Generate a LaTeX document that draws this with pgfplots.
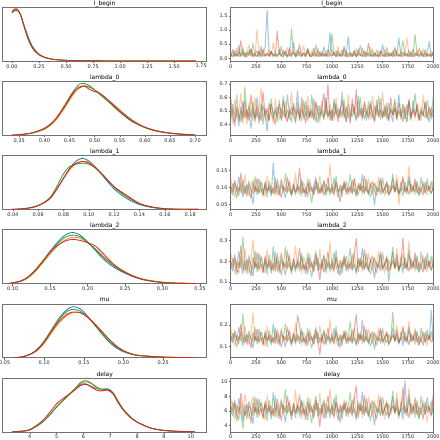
\documentclass[border=0pt]{standalone}
\usepackage{pgfplots}
\pgfplotsset{compat=1.18}
\usepackage{pgfplotstable}
\usepackage{fontspec}
\setmainfont{DejaVu Sans}
\definecolor{cA}{HTML}{1F77B4}
\definecolor{cB}{HTML}{FF7F0E}
\definecolor{cC}{HTML}{2CA02C}
\definecolor{cD}{HTML}{D62728}

% ---------- KDE tables: x, chain0..chain3 ----------
\pgfplotstableread{
x c0 c1 c2 c3
0.00 0.90 0.91 0.90 0.92
0.02 0.93 0.97 0.94 0.95
0.04 0.95 0.99 0.95 0.96
0.06 0.93 0.94 0.92 0.93
0.08 0.86 0.85 0.85 0.86
0.10 0.74 0.72 0.72 0.73
0.125 0.59 0.55 0.56 0.56
0.15 0.45 0.40 0.41 0.41
0.175 0.33 0.29 0.30 0.30
0.20 0.24 0.21 0.21 0.22
0.25 0.13 0.115 0.115 0.12
0.30 0.075 0.07 0.07 0.07
0.35 0.045 0.042 0.045 0.044
0.40 0.028 0.027 0.03 0.028
0.50 0.014 0.013 0.014 0.015
0.60 0.008 0.008 0.008 0.009
0.75 0.004 0.005 0.004 0.005
1.00 0.002 0.002 0.003 0.002
1.25 0.001 0.001 0.001 0.001
1.50 0.001 0.000 0.000 0.000
1.70 0.000 0.000 0.000 0.000
}\klb
\pgfplotstableread{
x c0 c1 c2 c3
0.335 0.00 0.00 0.00 0.00
0.35 0.010 0.008 0.010 0.009
0.375 0.040 0.036 0.040 0.045
0.40 0.12 0.11 0.12 0.13
0.42 0.26 0.25 0.27 0.28
0.44 0.52 0.50 0.55 0.54
0.45 0.67 0.65 0.71 0.69
0.46 0.80 0.79 0.85 0.82
0.47 0.88 0.89 0.95 0.90
0.48 0.91 0.92 0.96 0.91
0.49 0.89 0.90 0.92 0.85
0.50 0.84 0.84 0.84 0.81
0.51 0.78 0.77 0.76 0.78
0.52 0.71 0.70 0.68 0.71
0.53 0.63 0.62 0.60 0.62
0.54 0.55 0.54 0.51 0.53
0.55 0.47 0.46 0.43 0.44
0.56 0.39 0.38 0.35 0.37
0.575 0.28 0.27 0.25 0.26
0.60 0.15 0.15 0.14 0.145
0.625 0.08 0.08 0.07 0.075
0.65 0.04 0.04 0.035 0.04
0.675 0.018 0.02 0.015 0.018
0.70 0.005 0.006 0.003 0.004
}\kla
\pgfplotstableread{
x c0 c1 c2 c3
0.039 0.00 0.00 0.00 0.00
0.05 0.015 0.015 0.02 0.015
0.06 0.07 0.07 0.075 0.07
0.07 0.22 0.22 0.24 0.22
0.08 0.58 0.57 0.66 0.58
0.085 0.77 0.74 0.80 0.76
0.09 0.90 0.85 0.84 0.86
0.095 0.95 0.89 0.86 0.89
0.10 0.90 0.88 0.84 0.86
0.105 0.79 0.79 0.77 0.78
0.11 0.65 0.67 0.66 0.67
0.12 0.38 0.42 0.41 0.42
0.13 0.20 0.25 0.23 0.26
0.14 0.09 0.11 0.10 0.11
0.15 0.035 0.045 0.04 0.045
0.16 0.01 0.015 0.012 0.012
0.17 0.003 0.006 0.004 0.003
0.187 0.00 0.00 0.00 0.00
}\klc
\pgfplotstableread{
x c0 c1 c2 c3
0.095 0.00 0.00 0.00 0.00
0.11 0.04 0.035 0.04 0.045
0.12 0.11 0.10 0.11 0.12
0.13 0.24 0.22 0.24 0.25
0.14 0.41 0.38 0.40 0.42
0.15 0.60 0.55 0.58 0.59
0.16 0.77 0.70 0.74 0.71
0.17 0.90 0.81 0.86 0.79
0.18 0.95 0.86 0.90 0.82
0.19 0.90 0.84 0.87 0.80
0.20 0.77 0.76 0.77 0.76
0.21 0.62 0.65 0.64 0.70
0.22 0.47 0.52 0.50 0.57
0.23 0.35 0.40 0.38 0.42
0.24 0.26 0.30 0.28 0.30
0.25 0.19 0.22 0.20 0.21
0.26 0.13 0.15 0.14 0.14
0.27 0.085 0.10 0.09 0.09
0.28 0.055 0.065 0.06 0.055
0.30 0.02 0.025 0.02 0.02
0.32 0.005 0.01 0.005 0.003
0.345 0.00 0.002 0.00 0.00
}\kld
\pgfplotstableread{
x c0 c1 c2 c3
0.06 0.00 0.00 0.00 0.00
0.07 0.01 0.01 0.012 0.01
0.08 0.05 0.045 0.05 0.05
0.09 0.14 0.12 0.14 0.13
0.10 0.31 0.27 0.31 0.29
0.11 0.54 0.48 0.53 0.51
0.12 0.76 0.67 0.74 0.70
0.13 0.91 0.80 0.87 0.82
0.137 0.95 0.84 0.90 0.85
0.145 0.91 0.84 0.87 0.84
0.15 0.85 0.81 0.82 0.80
0.16 0.68 0.69 0.67 0.68
0.17 0.49 0.53 0.50 0.53
0.18 0.32 0.37 0.34 0.37
0.19 0.19 0.23 0.21 0.23
0.20 0.11 0.13 0.12 0.13
0.21 0.065 0.075 0.07 0.07
0.22 0.04 0.045 0.04 0.04
0.25 0.01 0.012 0.012 0.01
0.29 0.00 0.00 0.00 0.00
}\klm
\pgfplotstableread{
x c0 c1 c2 c3
3.35 0.00 0.00 0.00 0.00
3.7 0.012 0.01 0.01 0.012
4.0 0.04 0.035 0.035 0.04
4.5 0.19 0.19 0.19 0.22
5.0 0.46 0.47 0.46 0.52
5.3 0.61 0.62 0.61 0.64
5.6 0.75 0.76 0.76 0.75
5.9 0.88 0.90 0.92 0.86
6.1 0.89 0.93 0.95 0.88
6.3 0.84 0.89 0.90 0.83
6.5 0.80 0.81 0.83 0.77
6.7 0.79 0.77 0.79 0.76
6.9 0.80 0.77 0.78 0.78
7.1 0.73 0.71 0.70 0.72
7.3 0.56 0.55 0.53 0.55
7.5 0.41 0.40 0.39 0.40
7.8 0.25 0.25 0.24 0.25
8.0 0.18 0.18 0.18 0.18
8.5 0.07 0.07 0.07 0.07
9.0 0.027 0.025 0.025 0.025
9.5 0.01 0.008 0.008 0.01
10.15 0.0 0.0 0.0 0.0
}\kle

% ---------- trace tables: draw, chain0..chain3 (thinned) ----------
\pgfplotstableread{
x c0 c1 c2 c3
0 0.12 0.08 0.15 0.05
20 0.05 0.22 0.07 0.31
40 0.28 0.04 0.18 0.09
60 0.09 0.35 0.06 0.14
80 0.45 0.11 0.24 0.06
100 0.07 0.06 0.10 0.62
120 0.16 0.29 0.38 0.11
140 0.04 0.09 0.05 0.21
160 0.22 0.15 0.13 0.04
180 0.10 0.48 0.27 0.18
200 0.31 0.07 0.08 0.33
220 0.06 0.19 0.52 0.07
240 0.13 0.05 0.12 0.15
260 0.08 1.02 0.06 0.26
280 0.25 0.12 0.21 0.05
300 0.05 0.27 0.09 0.41
320 0.18 0.06 0.33 0.12
340 0.39 0.17 0.07 0.08
360 1.70 0.08 0.15 0.19
380 0.07 0.32 0.11 0.06
400 0.21 0.09 0.26 0.23
420 0.09 0.55 0.05 0.11
440 0.14 0.13 0.19 0.07
460 0.06 0.07 0.09 0.95
480 0.33 0.21 0.14 0.16
500 0.10 0.06 0.42 0.08
520 0.04 0.18 0.08 0.29
540 0.26 0.10 0.23 0.12
560 0.08 0.38 0.06 0.05
580 0.17 0.07 0.12 0.37
600 0.05 0.14 1.05 0.09
620 0.58 0.25 0.17 0.21
640 0.12 0.05 0.07 0.06
660 0.07 0.31 0.29 0.14
680 0.23 0.09 0.10 0.48
700 0.09 0.16 0.05 0.08
720 0.15 0.44 0.20 0.17
740 0.06 0.08 0.13 0.05
760 0.34 0.20 0.36 0.28
780 0.10 0.06 0.07 0.10
800 0.05 0.27 0.16 0.07
820 0.19 0.11 0.09 0.35
840 0.08 0.05 0.47 0.13
860 0.27 0.36 0.11 0.06
880 0.12 0.09 0.06 0.22
900 0.06 0.17 0.24 0.09
920 0.40 0.07 0.08 0.16
940 0.09 0.23 0.15 0.05
960 0.14 0.10 0.05 0.31
980 0.90 0.06 0.19 0.11
1000 0.07 0.30 0.85 0.08
1020 0.21 0.12 0.10 0.19
1040 0.05 0.08 0.27 0.06
1060 0.16 0.43 0.07 0.26
1080 0.08 0.06 0.14 0.10
1100 0.30 0.19 0.09 0.07
1120 0.11 0.07 0.33 0.42
1140 0.06 0.28 0.06 0.12
1160 0.76 0.10 0.18 0.05
1180 0.13 0.05 0.11 0.20
1200 0.07 0.22 0.05 0.09
1220 0.24 0.09 0.29 0.15
1240 0.05 0.34 0.08 0.06
1260 0.18 0.08 0.16 0.33
1280 0.09 0.15 0.45 0.11
1300 0.36 0.06 0.10 0.07
1320 0.10 0.25 0.06 0.24
1340 0.06 0.11 0.21 0.08
1360 0.20 0.07 0.12 0.53
1380 0.08 0.39 0.07 0.13
1400 0.14 0.09 0.31 0.05
1420 0.05 0.18 0.09 0.18
1440 0.29 0.05 0.14 0.10
1460 0.11 0.26 0.05 0.06
1480 0.07 0.12 0.23 0.29
1500 0.48 0.07 0.10 0.12
1520 0.12 0.32 0.06 0.07
1540 0.06 0.10 0.38 0.21
1560 0.19 0.06 0.12 0.08
1580 0.09 0.20 0.07 0.15
1600 0.26 0.08 0.19 0.05
1620 0.05 0.41 0.10 0.34
1640 0.15 0.11 0.26 0.09
1660 0.72 0.06 0.07 0.13
1680 0.10 0.24 0.14 0.06
1700 0.06 0.09 0.62 0.22
1720 0.21 0.15 0.09 0.10
1740 0.08 0.73 0.17 0.07
1760 0.13 0.07 0.06 0.28
1780 0.05 0.19 0.22 0.11
1800 0.32 0.10 0.10 0.05
1820 0.09 0.05 0.84 0.17
1840 0.17 0.28 0.12 0.09
1860 0.06 0.12 0.07 0.36
1880 0.24 0.07 0.18 0.13
1900 0.10 0.33 0.09 0.06
1920 0.05 0.09 0.30 0.20
1940 0.18 0.17 0.06 0.08
1960 0.60 0.06 0.14 0.15
1980 0.08 0.23 0.08 0.05
2000 0.13 0.11 0.20 0.25
}\tlb
\pgfplotstableread{
x c0 c1 c2 c3
0 0.47 0.52 0.44 0.60
20 0.55 0.41 0.51 0.46
40 0.42 0.58 0.47 0.39
60 0.51 0.45 0.62 0.53
80 0.39 0.49 0.43 0.48
100 0.53 0.63 0.50 0.42
120 0.46 0.44 0.41 0.57
140 0.58 0.52 0.68 0.45
160 0.44 0.40 0.46 0.51
180 0.49 0.56 0.53 0.43
200 0.37 0.47 0.45 0.62
220 0.52 0.43 0.57 0.49
240 0.45 0.60 0.42 0.44
260 0.60 0.46 0.49 0.54
280 0.48 0.53 0.44 0.41
300 0.43 0.67 0.55 0.50
320 0.54 0.45 0.40 0.64
340 0.47 0.50 0.52 0.46
360 0.35 0.42 0.47 0.52
380 0.56 0.55 0.43 0.43
400 0.49 0.48 0.59 0.55
420 0.44 0.41 0.46 0.47
440 0.52 0.59 0.50 0.40
460 0.46 0.47 0.42 0.53
480 0.58 0.44 0.55 0.49
500 0.43 0.52 0.48 0.44
520 0.50 0.46 0.61 0.58
540 0.45 0.57 0.45 0.46
560 0.62 0.43 0.51 0.42
580 0.47 0.50 0.44 0.51
600 0.42 0.64 0.53 0.47
620 0.53 0.48 0.47 0.56
640 0.48 0.42 0.41 0.45
660 0.65 0.51 0.56 0.52
680 0.44 0.46 0.49 0.43
700 0.51 0.54 0.43 0.60
720 0.46 0.44 0.58 0.48
740 0.57 0.49 0.46 0.41
760 0.43 0.61 0.50 0.54
780 0.50 0.45 0.45 0.46
800 0.45 0.52 0.62 0.50
820 0.59 0.43 0.48 0.44
840 0.47 0.56 0.42 0.57
860 0.41 0.47 0.54 0.49
880 0.54 0.42 0.47 0.45
900 0.48 0.58 0.51 0.52
920 0.44 0.46 0.44 0.63
940 0.60 0.51 0.57 0.47
960 0.46 0.44 0.46 0.70
980 0.51 0.55 0.50 0.43
1000 0.43 0.48 0.43 0.51
1020 0.56 0.43 0.59 0.46
1040 0.49 0.60 0.47 0.55
1060 0.45 0.47 0.52 0.42
1080 0.52 0.50 0.45 0.50
1100 0.47 0.45 0.64 0.58
1120 0.58 0.53 0.48 0.45
1140 0.42 0.46 0.42 0.53
1160 0.50 0.62 0.55 0.47
1180 0.45 0.44 0.49 0.41
1200 0.55 0.51 0.46 0.59
1220 0.48 0.47 0.53 0.48
1240 0.43 0.58 0.44 0.66
1260 0.61 0.45 0.50 0.46
1280 0.47 0.49 0.60 0.52
1300 0.52 0.43 0.46 0.45
1320 0.44 0.56 0.52 0.57
1340 0.50 0.48 0.43 0.49
1360 0.46 0.53 0.57 0.44
1380 0.57 0.44 0.48 0.55
1400 0.49 0.61 0.45 0.47
1420 0.43 0.47 0.54 0.42
1440 0.54 0.52 0.47 0.58
1460 0.47 0.45 0.61 0.46
1480 0.59 0.50 0.44 0.51
1500 0.45 0.64 0.50 0.45
1520 0.51 0.46 0.46 0.54
1540 0.44 0.53 0.56 0.48
1560 0.56 0.44 0.43 0.43
1580 0.48 0.51 0.52 0.60
1600 0.42 0.47 0.47 0.47
1620 0.53 0.57 0.59 0.52
1640 0.47 0.43 0.45 0.44
1660 0.62 0.50 0.51 0.56
1680 0.46 0.46 0.44 0.49
1700 0.51 0.55 0.55 0.42
1720 0.44 0.48 0.48 0.53
1740 0.55 0.42 0.42 0.47
1760 0.49 0.59 0.57 0.58
1780 0.43 0.46 0.46 0.45
1800 0.58 0.52 0.50 0.51
1820 0.47 0.44 0.63 0.46
1840 0.52 0.56 0.47 0.55
1860 0.45 0.47 0.43 0.43
1880 0.50 0.43 0.53 0.50
1900 0.46 0.62 0.48 0.47
1920 0.56 0.49 0.45 0.57
1940 0.48 0.45 0.58 0.44
1960 0.42 0.53 0.49 0.52
1980 0.53 0.46 0.44 0.48
2000 0.47 0.51 0.62 0.45
}\tla
\pgfplotstableread{
x c0 c1 c2 c3
0 0.092 0.128 0.085 0.104
20 0.078 0.096 0.112 0.087
40 0.115 0.071 0.094 0.121
60 0.088 0.104 0.069 0.093
80 0.131 0.089 0.101 0.076
100 0.097 0.115 0.086 0.142
120 0.072 0.083 0.123 0.095
140 0.105 0.137 0.091 0.082
160 0.084 0.092 0.074 0.109
180 0.119 0.076 0.107 0.091
200 0.091 0.108 0.095 0.068
220 0.052 0.122 0.083 0.114
240 0.103 0.087 0.132 0.089
260 0.087 0.099 0.078 0.127
280 0.125 0.081 0.099 0.085
300 0.094 0.119 0.115 0.097
320 0.079 0.093 0.088 0.075
340 0.112 0.074 0.103 0.118
360 0.086 0.134 0.072 0.090
380 0.098 0.090 0.119 0.106
400 0.075 0.105 0.093 0.083
420 0.172 0.085 0.081 0.099
440 0.089 0.111 0.128 0.079
460 0.107 0.078 0.090 0.124
480 0.082 0.097 0.076 0.092
500 0.121 0.126 0.106 0.071
520 0.093 0.084 0.094 0.103
540 0.070 0.101 0.141 0.088
560 0.101 0.088 0.085 0.131
580 0.116 0.120 0.099 0.094
600 0.085 0.079 0.073 0.080
620 0.097 0.095 0.111 0.110
640 0.078 0.143 0.088 0.086
660 0.109 0.086 0.102 0.098
680 0.090 0.103 0.079 0.158
700 0.124 0.074 0.117 0.084
720 0.083 0.116 0.093 0.096
740 0.100 0.091 0.084 0.073
760 0.073 0.082 0.126 0.112
780 0.113 0.124 0.091 0.089
800 0.088 0.096 0.055 0.101
820 0.096 0.077 0.105 0.079
840 0.130 0.107 0.094 0.122
860 0.081 0.089 0.114 0.093
880 0.099 0.135 0.082 0.085
900 0.087 0.081 0.097 0.108
920 0.118 0.098 0.121 0.077
940 0.076 0.110 0.086 0.096
960 0.104 0.087 0.100 0.129
980 0.092 0.168 0.078 0.088
1000 0.084 0.093 0.109 0.099
1020 0.127 0.076 0.090 0.082
1040 0.095 0.114 0.133 0.115
1060 0.071 0.090 0.087 0.091
1080 0.108 0.102 0.095 0.058
1100 0.089 0.085 0.074 0.106
1120 0.117 0.121 0.112 0.094
1140 0.080 0.094 0.089 0.117
1160 0.098 0.079 0.101 0.086
1180 0.086 0.108 0.138 0.100
1200 0.122 0.092 0.085 0.081
1220 0.094 0.128 0.096 0.125
1240 0.074 0.083 0.079 0.092
1260 0.106 0.099 0.113 0.078
1280 0.091 0.115 0.092 0.109
1300 0.139 0.078 0.106 0.087
1320 0.085 0.104 0.083 0.134
1340 0.101 0.088 0.124 0.095
1360 0.079 0.126 0.090 0.083
1380 0.112 0.093 0.072 0.104
1400 0.093 0.080 0.101 0.118
1420 0.048 0.109 0.115 0.090
1440 0.103 0.097 0.088 0.076
1460 0.088 0.131 0.097 0.101
1480 0.120 0.086 0.080 0.128
1500 0.083 0.101 0.127 0.087
1520 0.097 0.075 0.094 0.097
1540 0.114 0.118 0.083 0.113
1560 0.077 0.094 0.108 0.079
1580 0.095 0.084 0.091 0.094
1600 0.128 0.110 0.140 0.105
1620 0.087 0.090 0.086 0.088
1640 0.109 0.137 0.099 0.121
1660 0.082 0.050 0.077 0.083
1680 0.099 0.100 0.116 0.097
1700 0.076 0.125 0.092 0.132
1720 0.116 0.087 0.104 0.086
1740 0.090 0.096 0.081 0.099
1760 0.133 0.163 0.121 0.080
1780 0.084 0.089 0.095 0.111
1800 0.102 0.106 0.087 0.092
1820 0.088 0.079 0.113 0.126
1840 0.119 0.113 0.090 0.084
1860 0.079 0.094 0.076 0.101
1880 0.096 0.085 0.129 0.093
1900 0.110 0.119 0.094 0.078
1920 0.086 0.092 0.084 0.116
1940 0.125 0.078 0.107 0.089
1960 0.093 0.104 0.091 0.104
1980 0.081 0.097 0.118 0.085
2000 0.104 0.122 0.089 0.098
}\tlc
\pgfplotstableread{
x c0 c1 c2 c3
0 0.176 0.241 0.162 0.198
20 0.153 0.187 0.214 0.171
40 0.214 0.139 0.181 0.232
60 0.168 0.201 0.135 0.158
80 0.248 0.166 0.196 0.143
100 0.185 0.222 0.169 0.275
120 0.140 0.158 0.318 0.181
140 0.202 0.261 0.174 0.156
160 0.161 0.176 0.141 0.209
180 0.228 0.145 0.205 0.174
200 0.173 0.209 0.183 0.128
220 0.129 0.304 0.158 0.219
240 0.196 0.168 0.251 0.169
260 0.167 0.190 0.149 0.242
280 0.238 0.152 0.189 0.162
300 0.180 0.227 0.221 0.186
320 0.151 0.178 0.167 0.142
340 0.213 0.142 0.197 0.226
360 0.164 0.256 0.137 0.173
380 0.187 0.172 0.228 0.203
400 0.143 0.201 0.178 0.159
420 0.271 0.161 0.154 0.190
440 0.170 0.213 0.245 0.151
460 0.205 0.149 0.173 0.237
480 0.157 0.186 0.145 0.176
500 0.232 0.242 0.203 0.135
520 0.178 0.160 0.180 0.197
540 0.133 0.193 0.269 0.168
560 0.194 0.168 0.163 0.251
580 0.222 0.230 0.190 0.180
600 0.162 0.151 0.139 0.153
620 0.185 0.182 0.212 0.211
640 0.149 0.274 0.168 0.164
660 0.208 0.165 0.195 0.188
680 0.172 0.197 0.151 0.262
700 0.237 0.141 0.224 0.161
720 0.158 0.222 0.178 0.184
740 0.191 0.174 0.161 0.140
760 0.139 0.157 0.241 0.214
780 0.216 0.237 0.174 0.170
800 0.169 0.183 0.123 0.193
820 0.183 0.147 0.201 0.151
840 0.249 0.205 0.180 0.233
860 0.155 0.171 0.218 0.178
880 0.189 0.258 0.157 0.108
900 0.166 0.155 0.186 0.207
920 0.225 0.187 0.231 0.148
940 0.145 0.210 0.165 0.183
960 0.199 0.166 0.191 0.246
980 0.176 0.295 0.149 0.168
1000 0.160 0.178 0.208 0.189
1020 0.243 0.146 0.172 0.157
1040 0.181 0.218 0.254 0.220
1060 0.136 0.172 0.166 0.174
1080 0.206 0.195 0.182 0.131
1100 0.170 0.163 0.141 0.203
1120 0.223 0.231 0.213 0.180
1140 0.153 0.179 0.170 0.224
1160 0.187 0.151 0.193 0.164
1180 0.165 0.206 0.263 0.191
1200 0.233 0.176 0.162 0.155
1220 0.179 0.244 0.184 0.239
1240 0.141 0.158 0.151 0.310
1260 0.202 0.189 0.216 0.149
1280 0.174 0.219 0.176 0.208
1300 0.265 0.149 0.203 0.166
1320 0.162 0.198 0.158 0.256
1340 0.193 0.168 0.237 0.182
1360 0.151 0.241 0.172 0.159
1380 0.213 0.178 0.138 0.199
1400 0.177 0.153 0.193 0.225
1420 0.118 0.209 0.220 0.172
1440 0.196 0.185 0.168 0.145
1460 0.168 0.250 0.185 0.193
1480 0.229 0.164 0.153 0.244
1500 0.158 0.193 0.242 0.166
1520 0.185 0.143 0.179 0.185
1540 0.217 0.226 0.159 0.216
1560 0.102 0.180 0.206 0.151
1580 0.181 0.161 0.174 0.179
1600 0.245 0.210 0.268 0.201
1620 0.166 0.172 0.164 0.168
1640 0.207 0.261 0.189 0.231
1660 0.157 0.157 0.147 0.158
1680 0.189 0.191 0.221 0.184
1700 0.145 0.239 0.176 0.312
1720 0.221 0.166 0.199 0.164
1740 0.171 0.183 0.155 0.189
1760 0.253 0.298 0.231 0.152
1780 0.160 0.170 0.181 0.212
1800 0.194 0.202 0.166 0.175
1820 0.168 0.151 0.216 0.241
1840 0.227 0.215 0.172 0.161
1860 0.150 0.179 0.145 0.192
1880 0.183 0.162 0.246 0.177
1900 0.210 0.227 0.180 0.148
1920 0.164 0.176 0.160 0.221
1940 0.239 0.149 0.204 0.170
1960 0.177 0.198 0.174 0.198
1980 0.154 0.185 0.225 0.162
2000 0.198 0.233 0.169 0.187
}\tld
\pgfplotstableread{
x c0 c1 c2 c3
0 0.138 0.182 0.125 0.151
20 0.117 0.142 0.163 0.129
40 0.161 0.104 0.139 0.175
60 0.128 0.153 0.098 0.136
80 0.189 0.131 0.147 0.112
100 0.143 0.168 0.126 0.203
120 0.105 0.119 0.251 0.140
140 0.152 0.196 0.134 0.118
160 0.124 0.137 0.108 0.157
180 0.172 0.110 0.155 0.133
200 0.133 0.159 0.141 0.095
220 0.094 0.255 0.121 0.166
240 0.148 0.127 0.189 0.127
260 0.127 0.145 0.113 0.181
280 0.180 0.115 0.144 0.123
300 0.137 0.171 0.167 0.142
320 0.113 0.135 0.129 0.106
340 0.160 0.101 0.150 0.172
360 0.125 0.193 0.102 0.131
380 0.142 0.130 0.174 0.153
400 0.109 0.152 0.136 0.120
420 0.204 0.121 0.117 0.143
440 0.130 0.163 0.187 0.114
460 0.155 0.112 0.131 0.179
480 0.119 0.141 0.107 0.134
500 0.176 0.184 0.154 0.099
520 0.135 0.122 0.137 0.148
540 0.099 0.146 0.205 0.128
560 0.147 0.128 0.123 0.190
580 0.169 0.177 0.144 0.137
600 0.122 0.114 0.103 0.116
620 0.141 0.139 0.160 0.161
640 0.111 0.208 0.127 0.124
660 0.158 0.124 0.148 0.244
680 0.131 0.150 0.114 0.199
700 0.182 0.106 0.170 0.122
720 0.120 0.166 0.135 0.139
740 0.145 0.133 0.121 0.104
760 0.104 0.118 0.183 0.162
780 0.164 0.180 0.132 0.129
800 0.128 0.139 0.093 0.147
820 0.139 0.109 0.152 0.113
840 0.188 0.157 0.136 0.177
860 0.116 0.129 0.165 0.135
880 0.143 0.196 0.118 0.062
900 0.126 0.117 0.141 0.156
920 0.171 0.143 0.176 0.110
940 0.108 0.160 0.125 0.139
960 0.151 0.126 0.145 0.186
980 0.134 0.225 0.112 0.127
1000 0.121 0.136 0.158 0.144
1020 0.184 0.108 0.130 0.118
1040 0.138 0.164 0.193 0.168
1060 0.101 0.131 0.126 0.132
1080 0.157 0.148 0.139 0.097
1100 0.129 0.123 0.106 0.153
1120 0.169 0.175 0.162 0.136
1140 0.114 0.136 0.129 0.171
1160 0.142 0.112 0.147 0.123
1180 0.125 0.156 0.215 0.145
1200 0.177 0.133 0.122 0.115
1220 0.136 0.185 0.140 0.181
1240 0.105 0.118 0.113 0.248
1260 0.153 0.142 0.164 0.111
1280 0.132 0.166 0.133 0.158
1300 0.221 0.110 0.154 0.126
1320 0.123 0.150 0.119 0.194
1340 0.146 0.127 0.179 0.138
1360 0.112 0.182 0.130 0.120
1380 0.162 0.135 0.102 0.150
1400 0.135 0.114 0.146 0.169
1420 0.087 0.158 0.167 0.130
1440 0.148 0.140 0.127 0.107
1460 0.127 0.189 0.140 0.146
1480 0.173 0.124 0.115 0.185
1500 0.118 0.146 0.183 0.125
1520 0.140 0.105 0.135 0.140
1540 0.165 0.171 0.119 0.163
1560 0.107 0.136 0.156 0.112
1580 0.137 0.121 0.131 0.135
1600 0.186 0.159 0.258 0.152
1620 0.125 0.130 0.124 0.127
1640 0.157 0.198 0.143 0.175
1660 0.118 0.117 0.111 0.119
1680 0.143 0.144 0.168 0.139
1700 0.106 0.181 0.133 0.192
1720 0.168 0.126 0.151 0.124
1740 0.130 0.139 0.116 0.143
1760 0.191 0.216 0.175 0.109
1780 0.121 0.128 0.137 0.160
1800 0.147 0.153 0.125 0.132
1820 0.126 0.109 0.163 0.182
1840 0.172 0.162 0.130 0.121
1860 0.110 0.135 0.105 0.145
1880 0.139 0.120 0.186 0.134
1900 0.159 0.171 0.136 0.106
1920 0.122 0.133 0.120 0.167
1940 0.179 0.107 0.155 0.128
1960 0.134 0.149 0.132 0.150
1980 0.268 0.140 0.170 0.121
2000 0.115 0.175 0.128 0.141
}\tlm
\pgfplotstableread{
x c0 c1 c2 c3
0 6.1 7.8 5.6 6.6
20 5.3 6.4 7.2 5.9
40 7.0 4.9 6.2 7.5
60 5.8 6.8 4.6 5.5
80 7.7 5.7 6.6 4.8
100 6.3 7.3 5.7 8.4
120 4.6 5.4 3.6 6.3
140 6.8 8.3 6.0 5.4
160 5.5 6.1 4.9 6.9
180 7.3 5.0 6.7 6.0
200 6.0 6.9 6.3 4.4
220 4.3 8.0 5.4 7.1
240 6.5 5.8 7.9 5.8
260 5.7 6.5 5.1 7.7
280 7.6 5.2 6.5 5.6
300 6.2 7.2 7.1 6.4
320 5.2 6.2 5.9 4.9
340 7.0 4.8 6.8 7.3
360 5.6 8.1 4.7 6.0
380 6.4 5.9 7.4 6.7
400 4.9 6.7 6.1 5.5
420 8.5 5.5 5.3 6.3
440 5.9 7.0 8.0 5.2
460 6.7 5.1 6.0 7.6
480 5.4 6.4 5.0 6.1
500 7.4 7.6 6.9 4.7
520 6.1 5.6 6.2 6.8
540 4.5 6.6 8.9 5.8
560 6.6 5.8 5.6 8.0
580 7.1 7.4 6.5 6.2
600 5.6 5.3 4.8 5.4
620 6.3 6.3 7.0 7.0
640 5.1 8.8 5.8 5.7
660 6.9 5.7 6.7 6.6
680 5.9 6.7 5.2 8.2
700 7.5 4.9 7.3 5.6
720 5.5 7.3 6.2 6.3
740 6.5 6.0 5.5 4.8
760 4.8 5.4 7.8 7.1
780 7.0 7.7 6.0 5.9
800 5.8 6.2 4.4 6.6
820 6.2 5.0 6.8 5.2
840 8.0 6.9 6.1 7.5
860 5.3 5.9 7.1 6.1
880 6.4 8.4 5.4 3.9
900 5.7 5.3 6.4 6.9
920 7.2 6.4 7.5 5.0
940 5.0 7.0 5.7 6.4
960 6.7 5.7 6.5 8.0
980 6.0 9.0 5.1 5.8
1000 5.5 6.1 6.9 6.5
1020 7.7 5.0 5.9 5.3
1040 6.2 7.1 8.2 7.2
1060 4.7 5.9 5.7 6.0
1080 6.9 6.6 6.2 4.5
1100 5.8 5.6 4.9 6.8
1120 7.1 7.5 6.9 6.1
1140 5.3 6.2 5.9 7.3
1160 6.4 5.2 6.6 5.6
1180 5.7 6.9 8.5 6.5
1200 7.5 6.0 5.6 5.3
1220 6.1 7.9 6.3 7.8
1240 4.8 5.4 5.2 9.4
1260 6.7 6.5 7.2 5.1
1280 6.0 7.2 6.0 6.9
1300 8.6 5.1 6.8 5.7
1320 5.6 6.7 5.4 8.1
1340 6.6 5.8 7.7 6.2
1360 5.2 7.9 5.9 5.4
1380 7.0 6.1 4.7 6.7
1400 6.1 5.2 6.6 7.4
1420 4.1 6.9 7.3 5.9
1440 6.5 6.3 5.8 4.9
1460 5.8 8.2 6.3 6.6
1480 7.4 5.6 5.3 7.9
1500 5.4 6.6 7.9 5.6
1520 6.3 4.9 6.1 6.3
1540 7.1 7.4 5.4 7.1
1560 5.0 6.2 6.9 5.2
1580 6.2 5.5 6.0 6.1
1600 7.9 6.9 8.7 6.7
1620 5.7 5.9 5.7 5.8
1640 6.8 8.5 6.4 7.6
1660 5.4 5.4 5.0 5.5
1680 6.4 6.4 7.2 6.2
1700 4.9 7.8 6.0 9.2
1720 10.1 5.7 6.7 5.6
1740 5.9 6.2 5.3 6.4
1760 8.2 9.1 7.6 5.1
1780 5.5 5.8 6.2 7.0
1800 6.6 6.8 5.6 6.0
1820 5.7 5.1 7.0 7.8
1840 7.4 7.1 5.8 5.5
1860 5.1 6.1 4.9 6.5
1880 6.2 5.5 8.0 6.1
1900 6.9 7.4 6.1 4.9
1920 5.6 6.0 5.5 7.2
1940 7.8 4.6 6.8 5.8
1960 6.1 6.5 6.0 6.6
1980 5.3 6.1 7.3 5.5
2000 6.5 7.6 5.7 8.3
}\tle

\pgfplotsset{
  every axis title shift=0pt,
  base/.style={scale only axis, height=53.8pt, no markers,
    axis line style={black!55, line width=0.6pt},
    tick style={black!60, line width=0.5pt}, tick align=outside,
    major tick length=2pt,
    ticklabel style={font=\fontsize{5}{6}\selectfont, text=black!85},
    /pgf/number format/assume math mode=true,
    xticklabel style={inner sep=1pt},
    yticklabel style={inner sep=1pt},
    title style={font=\fontsize{6}{7}\selectfont, at={(0.5,1)}, anchor=base, yshift=2pt, inner sep=0pt},
    anchor=north west},
  kde/.style={base, width=204pt, ymin=0, ymax=1, ytick=\empty, xtick pos=bottom},
  trc/.style={base, width=202.6pt, xmin=0, xmax=2000,
    xtick={0,250,500,750,1000,1250,1500,1750,2000},
    xticklabels={0,250,500,750,1000,1250,1500,1750,2000},
    xtick pos=bottom, ytick pos=left},
  kl/.style={smooth, tension=0.5, line width=0.8pt},
  tl/.style={line width=1.05pt, opacity=0.4, line join=round},
}

\newcommand{\kdeplots}[1]{%
  \addplot[kl, cA] table[x index=0, y index=1] {#1};
  \addplot[kl, cB] table[x index=0, y index=2] {#1};
  \addplot[kl, cC] table[x index=0, y index=3] {#1};
  \addplot[kl, cD] table[x index=0, y index=4] {#1};}
\newcommand{\trplots}[1]{%
  \addplot[tl, cA] table[x index=0, y index=1] {#1};
  \addplot[tl, cB] table[x index=0, y index=2] {#1};
  \addplot[tl, cC] table[x index=0, y index=3] {#1};
  \addplot[tl, cD] table[x index=0, y index=4] {#1};}

\begin{document}
\begin{tikzpicture}
\useasboundingbox (0pt,0pt) rectangle (440pt,-440pt);

% row 1: l_begin
\begin{axis}[kde, at={(2.7pt,-7.3pt)}, title={l\_begin},
  xmin=-0.086, xmax=1.80,
  xtick={0,0.25,0.5,0.75,1,1.25,1.5,1.75},
  xticklabels={0.00,0.25,0.50,0.75,1.00,1.25,1.50,1.75}]
\kdeplots{\klb}
\end{axis}
\begin{axis}[trc, at={(230.7pt,-7.3pt)}, title={l\_begin},
  ymin=-0.1, ymax=1.8, ytick={0,0.5,1,1.5}, yticklabels={0.0,0.5,1.0,1.5}]
\trplots{\tlb}
\end{axis}

% row 2: lambda_0
\begin{axis}[kde, at={(2.7pt,-81.4pt)}, title={lambda\_0},
  xmin=0.317, xmax=0.723,
  xtick={0.35,0.4,0.45,0.5,0.55,0.6,0.65,0.7},
  xticklabels={0.35,0.40,0.45,0.50,0.55,0.60,0.65,0.70}]
\kdeplots{\kla}
\end{axis}
\begin{axis}[trc, at={(230.7pt,-81.4pt)}, title={lambda\_0},
  ymin=0.32, ymax=0.72, ytick={0.4,0.5,0.6,0.7}, yticklabels={0.4,0.5,0.6,0.7}]
\trplots{\tla}
\end{axis}

% row 3: lambda_1
\begin{axis}[kde, at={(2.7pt,-155.6pt)}, title={lambda\_1},
  xmin=0.032, xmax=0.193,
  xtick={0.04,0.06,0.08,0.10,0.12,0.14,0.16,0.18},
  xticklabels={0.04,0.06,0.08,0.10,0.12,0.14,0.16,0.18}]
\kdeplots{\klc}
\end{axis}
\begin{axis}[trc, at={(230.7pt,-155.6pt)}, title={lambda\_1},
  ymin=0.0355, ymax=0.194, ytick={0.05,0.10,0.15}, yticklabels={0.05,0.10,0.15}]
\trplots{\tlc}
\end{axis}

% row 4: lambda_2
\begin{axis}[kde, at={(2.7pt,-229.7pt)}, title={lambda\_2},
  xmin=0.0866, xmax=0.359,
  xtick={0.10,0.15,0.20,0.25,0.30,0.35},
  xticklabels={0.10,0.15,0.20,0.25,0.30,0.35}]
\kdeplots{\kld}
\end{axis}
\begin{axis}[trc, at={(230.7pt,-229.7pt)}, title={lambda\_2},
  ymin=0.092, ymax=0.353, ytick={0.1,0.2,0.3}, yticklabels={0.1,0.2,0.3}]
\trplots{\tld}
\end{axis}

% row 5: mu
\begin{axis}[kde, at={(2.7pt,-303.9pt)}, title={mu},
  xmin=0.0475, xmax=0.305,
  xtick={0.05,0.10,0.15,0.20,0.25},
  xticklabels={0.05,0.10,0.15,0.20,0.25}]
\kdeplots{\klm}
\end{axis}
\begin{axis}[trc, at={(230.7pt,-303.9pt)}, title={mu},
  ymin=0.049, ymax=0.297, ytick={0.1,0.2}, yticklabels={0.1,0.2}]
\trplots{\tlm}
\end{axis}

% row 6: delay
\begin{axis}[kde, at={(2.7pt,-378pt)}, title={delay},
  xmin=2.99, xmax=10.59,
  xtick={4,5,6,7,8,9,10},
  xticklabels={4,5,6,7,8,9,10}]
\kdeplots{\kle}
\end{axis}
\begin{axis}[trc, at={(230.7pt,-378pt)}, title={delay},
  ymin=3.18, ymax=10.46, ytick={4,6,8,10}, yticklabels={4,6,8,10}]
\trplots{\tle}
\end{axis}
\end{tikzpicture}
\end{document}
